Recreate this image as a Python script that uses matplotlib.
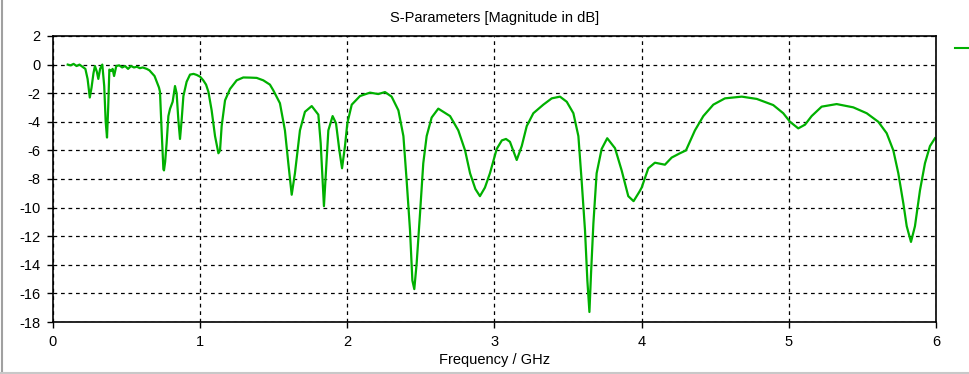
import matplotlib
matplotlib.use('Agg')
import matplotlib.pyplot as plt
from matplotlib.lines import Line2D

# S11 trace (GHz, dB)
freq = [0.10, 0.12, 0.14, 0.16, 0.18, 0.20, 0.22, 0.235, 0.25, 0.262, 0.275, 0.285,
        0.298, 0.308, 0.32, 0.335, 0.348, 0.358, 0.367, 0.375, 0.383, 0.395, 0.405,
        0.415, 0.43, 0.45, 0.47, 0.49, 0.51, 0.53, 0.55, 0.57, 0.59, 0.61, 0.637,
        0.655, 0.67, 0.69, 0.705, 0.72, 0.727, 0.738, 0.75, 0.754, 0.762, 0.772,
        0.784, 0.795, 0.813, 0.829, 0.84, 0.852, 0.863, 0.874, 0.886, 0.908, 0.931,
        0.955, 0.976, 1.0, 1.021, 1.04, 1.056, 1.078, 1.101, 1.124, 1.135, 1.146,
        1.169, 1.203, 1.248, 1.293, 1.339, 1.384, 1.429, 1.474, 1.497, 1.542, 1.576,
        1.599, 1.622, 1.644, 1.678, 1.712, 1.758, 1.803, 1.819, 1.832, 1.841, 1.855,
        1.871, 1.9, 1.923, 1.946, 1.964, 1.984, 2.0, 2.03, 2.086, 2.154, 2.21, 2.256,
        2.301, 2.347, 2.381, 2.403, 2.426, 2.442, 2.455, 2.471, 2.494, 2.516, 2.539,
        2.573, 2.618, 2.698, 2.754, 2.8, 2.834, 2.87, 2.901, 2.935, 2.969, 3.015,
        3.05, 3.078, 3.105, 3.13, 3.151, 3.185, 3.219, 3.264, 3.332, 3.389, 3.445,
        3.491, 3.536, 3.57, 3.592, 3.615, 3.631, 3.645, 3.656, 3.672, 3.694, 3.728,
        3.766, 3.819, 3.864, 3.909, 3.945, 3.984, 4.0, 4.045, 4.09, 4.158, 4.204,
        4.26, 4.301, 4.362, 4.419, 4.487, 4.566, 4.68, 4.782, 4.894, 4.962, 5.008,
        5.064, 5.11, 5.155, 5.223, 5.325, 5.438, 5.529, 5.608, 5.665, 5.71, 5.744,
        5.778, 5.801, 5.83, 5.857, 5.891, 5.925, 5.959, 5.993]
s11 = [0.0, -0.05, 0.05, -0.1, 0.0, -0.15, -0.3, -1.0, -2.3, -1.6, -0.6, -0.1,
       -0.5, -1.0, -0.3, 0.0, -1.5, -4.0, -5.1, -3.0, -0.35, -0.45, -0.3,
       -0.8, -0.1, -0.05, -0.2, -0.1, -0.3, -0.1, -0.2, -0.15, -0.25, -0.2, -0.3,
       -0.4, -0.57, -0.8, -1.2, -1.6, -1.9, -4.6, -7.3, -7.4, -6.8, -5.5,
       -3.6, -3.1, -2.6, -1.5, -2.0, -3.9, -5.2, -3.9, -2.2, -1.2, -0.7,
       -0.65, -0.72, -0.85, -1.1, -1.4, -1.9, -3.2, -5.0, -6.2, -6.0, -4.3,
       -2.5, -1.7, -1.1, -0.9, -0.91, -0.93, -1.1, -1.4, -1.8, -2.7, -4.6,
       -6.9, -9.1, -7.6, -4.6, -3.3, -2.9, -3.5, -5.5, -8.1, -9.9, -7.4,
       -4.6, -3.6, -4.1, -6.0, -7.25, -5.7, -4.1, -2.8, -2.2, -1.96, -2.06, -1.92,
       -2.24, -3.2, -5.0, -8.1, -11.6, -15.1, -15.7, -13.9, -10.4, -6.9, -5.0,
       -3.7, -3.08, -3.6, -4.6, -6.0, -7.6, -8.7, -9.2, -8.6, -7.6, -5.9,
       -5.3, -5.2, -5.4, -6.1, -6.67, -5.7, -4.3, -3.4, -2.8, -2.36, -2.24,
       -2.6, -3.4, -5.0, -8.1, -11.6, -15.1, -17.3, -14.6, -11.1, -7.6, -5.9,
       -5.15, -5.85, -7.4, -9.2, -9.55, -8.9, -8.6, -7.25, -6.86, -7.0, -6.5,
       -6.2, -6.0, -4.6, -3.6, -2.8, -2.36, -2.24, -2.4, -2.83, -3.4, -4.0,
       -4.46, -4.2, -3.6, -2.94, -2.76, -2.99, -3.4, -4.0, -4.8, -6.0, -7.6,
       -9.7, -11.3, -12.4, -11.3, -8.8, -6.9, -5.7, -5.15]

xticks = [0, 1, 2, 3, 4, 5, 6]
yticks = [2, 0, -2, -4, -6, -8, -10, -12, -14, -16, -18]

plt.rcParams['font.family'] = ['Liberation Sans', 'DejaVu Sans']
plt.rcParams['font.size'] = 10
plt.rcParams['axes.unicode_minus'] = False

fig = plt.figure(figsize=(9.7, 3.74), dpi=100)
ax = fig.add_axes([53 / 970, 1 - 322 / 374, (936 - 53) / 970, (322 - 36) / 374])

ax.plot(freq, s11, color='#00b000', lw=1.6)

ax.set_xlim(0, 6)
ax.set_ylim(-18, 2)
ax.set_xticks(xticks)
ax.set_yticks(yticks)
ax.grid(True, color='black', linestyle=(0, (3, 3)), linewidth=0.9)
ax.tick_params(direction='out', length=4, width=1, colors='black', labelsize=10.5, pad=5)
ax.tick_params(axis='x', pad=5)
for sp in ax.spines.values():
    sp.set_linewidth(1.2)

ax.set_title('S-Parameters [Magnitude in dB]', fontsize=10.5, pad=10)
ax.set_xlabel('Frequency / GHz', fontsize=10.5, labelpad=3)

# frame lines of the window and a stub of the legend marker
fig.add_artist(Line2D([2.5 / 970, 2.5 / 970], [0, 1], color='#a0a0a0', lw=1.5))
fig.add_artist(Line2D([0, 1], [1.5 / 374, 1.5 / 374], color='#c8c8c8', lw=1.5))
fig.add_artist(Line2D([955 / 970, 1], [1 - 48 / 374, 1 - 48 / 374], color='#00b000', lw=1.5))

fig.savefig('out.png', dpi=100)
